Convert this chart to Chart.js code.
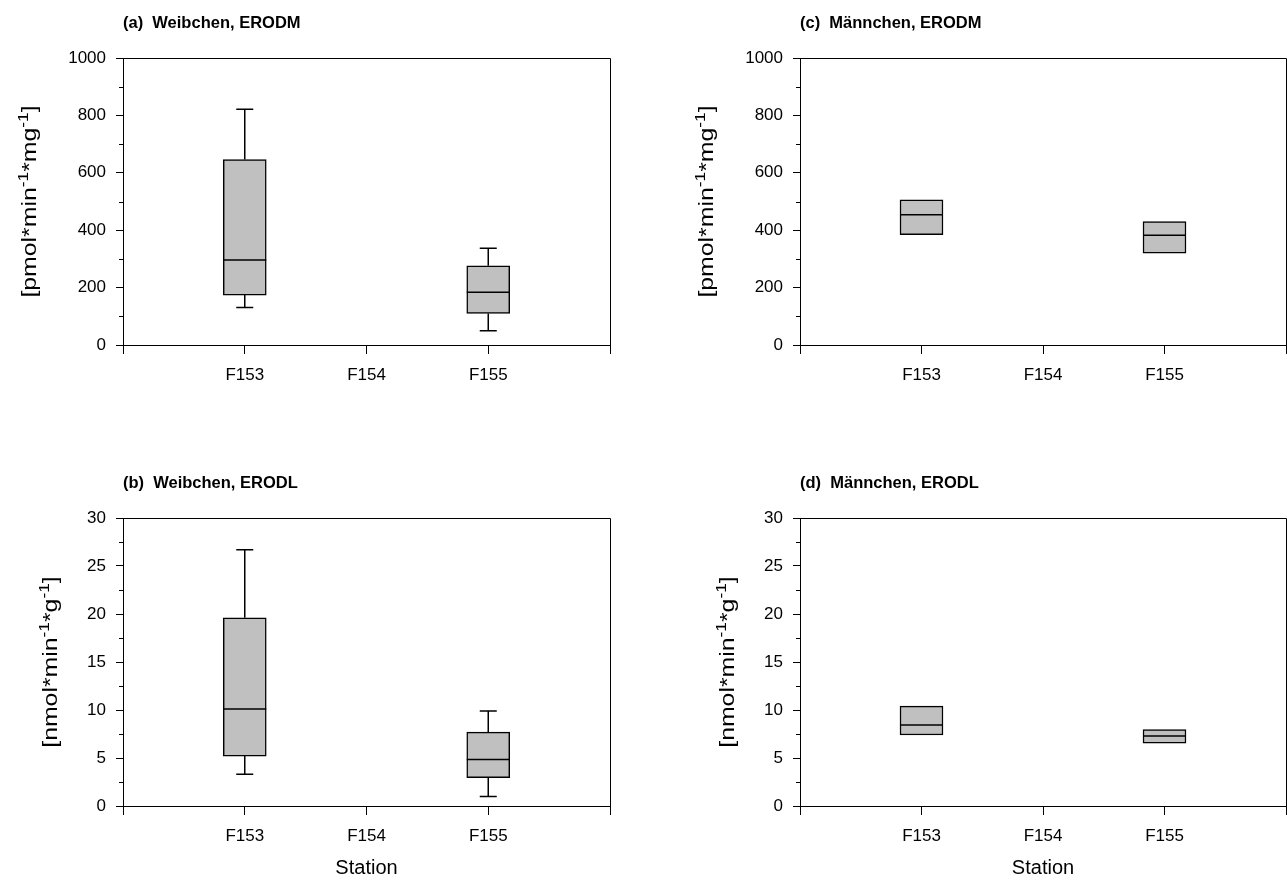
<!DOCTYPE html>
<html>
<head>
<meta charset="utf-8">
<script src="https://cdn.jsdelivr.net/npm/chart.js@4.4.0/dist/chart.umd.min.js"></script>
<style>
  html, body { margin: 0; padding: 0; background: #fff; }
  #wrap { position: relative; width: 1287px; height: 880px; overflow: hidden; }
  canvas { position: absolute; }
</style>
</head>
<body>
<div id="wrap">
  <canvas id="chartA" width="640" height="440" style="left:0;top:0"></canvas>
  <canvas id="chartC" width="657" height="440" style="left:640px;top:0"></canvas>
  <canvas id="chartB" width="640" height="440" style="left:0;top:440px"></canvas>
  <canvas id="chartD" width="657" height="440" style="left:640px;top:440px"></canvas>
</div>
<script>
// stations on the x axis
const stations = ['F153', 'F154', 'F155'];

// (a) Weibchen, ERODM  [pmol/min/mg]
const fMmin = [131, null, 50];
const fMq1  = [174, null, 110];
const fMmed = [296, null, 184];
const fMq3  = [646, null, 276];
const fMmax = [821, null, 337];

// (c) Maennchen, ERODM (no whiskers)
const mMq1  = [384, null, 320];
const mMmed = [454, null, 382];
const mMq3  = [506, null, 430];

// (b) Weibchen, ERODL  [nmol/min/g]
const fLmin = [3.3, null, 1.0];
const fLq1  = [5.2, null, 2.95];
const fLmed = [10.1, null, 4.85];
const fLq3  = [19.6, null, 7.7];
const fLmax = [26.7, null, 9.9];

// (d) Maennchen, ERODL (no whiskers)
const mLq1  = [7.4, null, 6.55];
const mLmed = [8.45, null, 7.3];
const mLq3  = [10.4, null, 7.95];

const FONT = '"Liberation Sans", Arial, Helvetica, sans-serif';
Chart.defaults.font.family = FONT;
Chart.defaults.color = '#000';

const labelM = [['[pmol*min', false], ['-1', true], ['*mg', false], ['-1', true], [']', false]];
const labelL = [['[nmol*min', false], ['-1', true], ['*g', false], ['-1', true], [']', false]];

function makePanel(id, p) {
  const labels = ['', ...stations, ''];
  const boxes = [null, ...stations.map((s, i) => p.q1[i] == null ? null : [p.q1[i], p.q3[i]]), null];

  const extras = {
    id: 'extras_' + id,
    afterDatasetsDraw(chart) {
      const ctx = chart.ctx;
      const y = chart.scales.y;
      const meta = chart.getDatasetMeta(0);
      ctx.save();
      ctx.strokeStyle = '#000';
      ctx.lineWidth = 1.5;
      stations.forEach((s, i) => {
        const bar = meta.data[i + 1];
        if (!bar || p.med[i] == null) return;
        const x = bar.x, half = bar.width / 2;
        // median
        const ym = y.getPixelForValue(p.med[i]);
        ctx.beginPath();
        ctx.moveTo(x - half, ym);
        ctx.lineTo(x + half, ym);
        ctx.stroke();
        // whiskers
        if (p.hi && p.hi[i] != null) {
          const y3 = y.getPixelForValue(p.q3[i]), yh = y.getPixelForValue(p.hi[i]);
          const y1 = y.getPixelForValue(p.q1[i]), yl = y.getPixelForValue(p.lo[i]);
          ctx.beginPath();
          ctx.moveTo(x, y3); ctx.lineTo(x, yh);
          ctx.moveTo(x - 8.5, yh); ctx.lineTo(x + 8.5, yh);
          ctx.moveTo(x, y1); ctx.lineTo(x, yl);
          ctx.moveTo(x - 8.5, yl); ctx.lineTo(x + 8.5, yl);
          ctx.stroke();
        }
      });
      ctx.restore();
    },
    afterDraw(chart) {
      const ctx = chart.ctx;
      const a = chart.chartArea;
      const y = chart.scales.y;
      ctx.save();
      // frame top + right
      ctx.strokeStyle = '#000';
      ctx.lineWidth = 1;
      ctx.beginPath();
      ctx.moveTo(a.left, a.top + 0.5);
      ctx.lineTo(a.right + 0.5, a.top + 0.5);
      ctx.lineTo(a.right + 0.5, a.bottom);
      ctx.stroke();
      // minor ticks
      ctx.beginPath();
      for (let v = p.yMinor; v < p.yMax; v += 2 * p.yMinor) {
        const py = Math.round(y.getPixelForValue(v)) + 0.5;
        ctx.moveTo(a.left - 4, py);
        ctx.lineTo(a.left, py);
      }
      ctx.stroke();
      // panel title
      ctx.fillStyle = '#000';
      ctx.font = 'bold 16.5px ' + FONT;
      ctx.textAlign = 'left';
      ctx.textBaseline = 'alphabetic';
      ctx.fillText(p.title, a.left, a.top - 30);
      // y axis title with superscripts (stretched along its length like the scan)
      const big = '20px ' + FONT, small = '14px ' + FONT;
      let total = 0;
      p.yLabel.forEach(([t, sup]) => { ctx.font = sup ? small : big; total += ctx.measureText(t).width; });
      ctx.translate(a.left - p.yLabelGap, (a.top + a.bottom) / 2);
      ctx.rotate(-Math.PI / 2);
      ctx.scale(1.24, 1);
      let pos = -total / 2;
      p.yLabel.forEach(([t, sup]) => {
        ctx.font = sup ? small : big;
        ctx.fillText(t, pos, sup ? -8 : 0);
        pos += ctx.measureText(t).width;
      });
      ctx.restore();
    }
  };

  return new Chart(document.getElementById(id), {
    type: 'bar',
    data: {
      labels: labels,
      datasets: [{
        data: boxes,
        backgroundColor: '#c0c0c0',
        borderColor: '#000',
        borderWidth: 1.5,
        borderSkipped: false,
        barThickness: 43
      }]
    },
    options: {
      responsive: false,
      animation: false,
      events: [],
      layout: { padding: { top: p.padTop, right: p.padRight, left: 0, bottom: 0 } },
      plugins: { legend: { display: false }, tooltip: { enabled: false } },
      scales: {
        x: {
          offset: false,
          grid: { offset: false, drawOnChartArea: false, tickLength: 9, color: '#000' },
          border: { display: true, color: '#000', width: 1 },
          ticks: { autoSkip: false, maxRotation: 0, padding: 11, font: { size: 17 }, color: '#000' },
          title: { display: p.station, text: 'Station', font: { size: 20 }, color: '#000', padding: 0 },
          afterFit(s) { s.height = p.axisH; }
        },
        y: {
          min: 0,
          max: p.yMax,
          grid: { drawOnChartArea: false, tickLength: 7, color: '#000' },
          border: { display: true, color: '#000', width: 1 },
          ticks: { stepSize: p.yStep, padding: 10, font: { size: 17 }, color: '#000',
                   callback: v => String(v) },
          afterFit(s) { s.width = p.axisW; }
        }
      }
    },
    plugins: [extras]
  });
}

makePanel('chartA', {
  title: '(a)  Weibchen, ERODM', yLabel: labelM, yLabelGap: 87,
  yMax: 1000, yStep: 200, yMinor: 100,
  lo: fMmin, q1: fMq1, med: fMmed, q3: fMq3, hi: fMmax,
  station: false, axisW: 123, axisH: 95, padTop: 58, padRight: 30
});
makePanel('chartC', {
  title: '(c)  M\u00e4nnchen, ERODM', yLabel: labelM, yLabelGap: 87,
  yMax: 1000, yStep: 200, yMinor: 100,
  lo: null, q1: mMq1, med: mMmed, q3: mMq3, hi: null,
  station: false, axisW: 160, axisH: 95, padTop: 58, padRight: 11
});
makePanel('chartB', {
  title: '(b)  Weibchen, ERODL', yLabel: labelL, yLabelGap: 66,
  yMax: 30, yStep: 5, yMinor: 2.5,
  lo: fLmin, q1: fLq1, med: fLmed, q3: fLq3, hi: fLmax,
  station: true, axisW: 123, axisH: 74, padTop: 78, padRight: 30
});
makePanel('chartD', {
  title: '(d)  M\u00e4nnchen, ERODL', yLabel: labelL, yLabelGap: 66,
  yMax: 30, yStep: 5, yMinor: 2.5,
  lo: null, q1: mLq1, med: mLmed, q3: mLq3, hi: null,
  station: true, axisW: 160, axisH: 74, padTop: 78, padRight: 11
});
</script>
</body>
</html>
